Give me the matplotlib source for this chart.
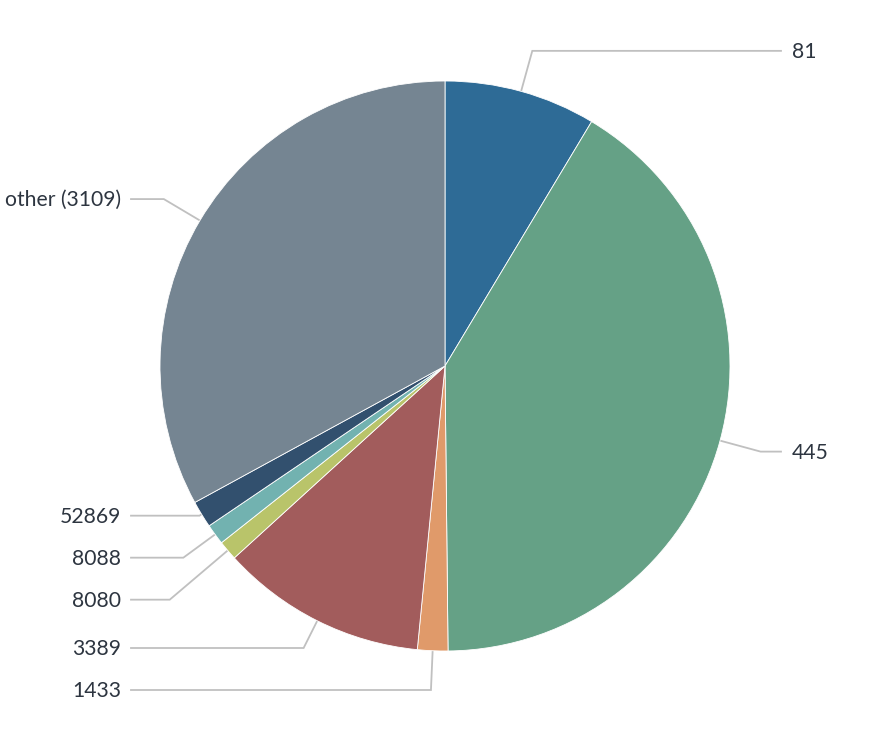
import matplotlib.pyplot as plt
import numpy as np

labels = ["81", "445", "1433", "3389", "8080", "8088", "52869", "other (3109)"]
shares = [8.60, 41.22, 1.72, 11.69, 1.11, 1.17, 1.53, 32.94]
colors = ["#2e6b96", "#65a186", "#e09a6a", "#a25c5c", "#b9c46a", "#72b2b0", "#32506e", "#758592"]

W, H = 894, 746
cx, cy = 445, 380      # pie centre (pixels, y up)
R = 285                # pie radius
dist = 42              # how far the elbow sits outside the pie
gap = 42               # minimum vertical spacing between labels

fig = plt.figure(figsize=(W / 100, H / 100), dpi=100)
ax = fig.add_axes([0, 0, 1, 1])

ax.pie(shares, colors=colors, center=(cx, cy), radius=R, startangle=90,
       counterclock=False,
       wedgeprops=dict(edgecolor="white", linewidth=0.6))
ax.set_xlim(0, W)
ax.set_ylim(0, H)
ax.set_aspect("equal")
ax.axis("off")

# mid angle of every slice, clockwise from 12 o'clock
fr = np.array(shares) / sum(shares)
ends = np.cumsum(fr) * 360
mids = np.radians(ends - fr * 180)


def spread(ys, lo):
    # push labels apart (ys sorted top -> bottom) and keep above lo
    ys = list(ys)
    for _ in range(300):
        for i in range(1, len(ys)):
            d = ys[i - 1] - ys[i]
            if d < gap:
                ys[i - 1] += (gap - d) / 2
                ys[i] -= (gap - d) / 2
        if ys and ys[-1] < lo:
            ys[-1] = lo
    return ys


for side in (1, -1):
    idx = [i for i in range(len(labels)) if np.sign(np.sin(mids[i])) == side]
    idx.sort(key=lambda i: -np.cos(mids[i]))
    want = [cy + (R + dist) * np.cos(mids[i]) for i in idx]
    got = spread(want, H - 690)
    for i, ly in zip(idx, got):
        a = mids[i]
        ex, ey = cx + R * np.sin(a), cy + R * np.cos(a)
        # go out along the radius until the label height is reached
        if abs(np.cos(a)) > 1e-6:
            t = (ly - cy) / np.cos(a)
        else:
            t = R + dist
        if t < R:
            bx, by = ex, ey
        else:
            bx, by = cx + t * np.sin(a), ly
        if side == 1:
            endx, tx, ha = 781, 792, "left"
        else:
            endx, tx, ha = 131, 121, "right"
        ax.plot([ex, bx, endx], [ey, by, ly], color="#c0c0c0", lw=1.3,
                solid_joinstyle="miter", zorder=0)
        ax.text(tx, ly - 1, labels[i], ha=ha, va="center", fontsize=15.2,
                family="Lato", color="#2d3540")

fig.savefig("out.png", dpi=100)
